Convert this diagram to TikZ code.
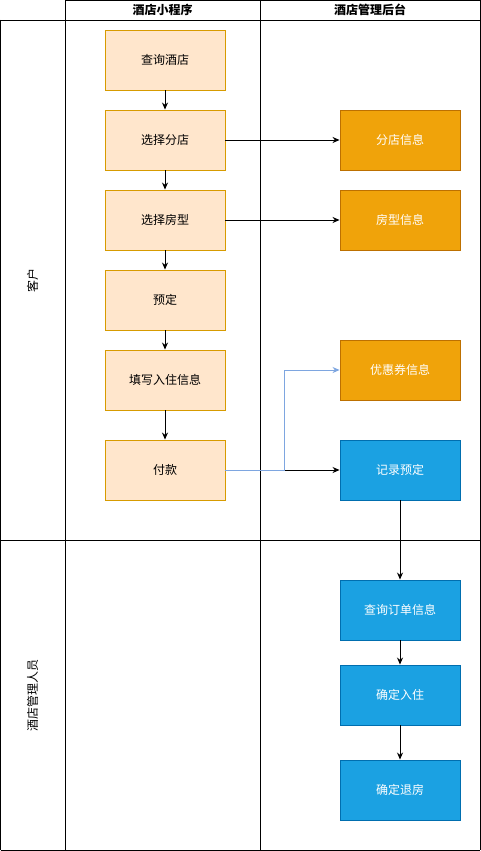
\documentclass[tikz,border=0pt]{standalone}
\usepackage{fontspec}
\setmainfont{Noto Sans CJK SC}
\usetikzlibrary{arrows.meta}
\definecolor{lightfill}{HTML}{FFE6CC}
\definecolor{lightline}{HTML}{D79B00}
\definecolor{orangefill}{HTML}{F0A30A}
\definecolor{orangeline}{HTML}{BD7000}
\definecolor{bluefill}{HTML}{1BA1E2}
\definecolor{blueline}{HTML}{006EAF}
\definecolor{linkblue}{HTML}{7EA6E0}
\tikzset{
  box/.style={draw, line width=0.9pt, minimum width=120pt, minimum height=60pt, inner sep=0pt, font=\fontsize{12}{14}\selectfont},
  userbox/.style={box, fill=lightfill, draw=lightline, text=black},
  infobox/.style={box, fill=orangefill, draw=orangeline, text=white},
  adminbox/.style={box, fill=bluefill, draw=blueline, text=white},
  flow/.style={line width=0.8pt, -{Stealth[length=7pt,width=6pt]}},
  lane/.style={line width=0.8pt},
  head/.style={font=\fontsize{12}{14}\selectfont\bfseries},
  lanelabel/.style={rotate=90, font=\fontsize{12}{14}\selectfont}
}
\begin{document}
\begin{tikzpicture}[x=1pt,y=-1pt]
\useasboundingbox (0,0) rectangle (481,851);
% swimlane frame
\draw[lane] (65,0.5) -- (480,0.5);
\draw[lane] (65,0.5) -- (65,850) (260,0.5) -- (260,850) (480,0.5) -- (480,850);
\draw[lane] (0.5,20) -- (480,20) (0.5,540) -- (480,540) (0.5,850) -- (480,850);
\draw[lane] (0.5,20) -- (0.5,850);
\node[head] (colA) at (162.5,10) {酒店小程序};
\node[head] (colB) at (370,10) {酒店管理后台};
\node[lanelabel] (laneA) at (32.5,280) {客户};
\node[lanelabel] (laneB) at (32.5,695) {酒店管理人员};
% customer steps
\node[userbox] (q1) at (165,60) {查询酒店};
\node[userbox] (q2) at (165,140) {选择分店};
\node[userbox] (q3) at (165,220) {选择房型};
\node[userbox] (q4) at (165,300) {预定};
\node[userbox] (q5) at (165,380) {填写入住信息};
\node[userbox] (q6) at (165,470) {付款};
% back-office data
\node[infobox] (b1) at (400,140) {分店信息};
\node[infobox] (b2) at (400,220) {房型信息};
\node[infobox] (b3) at (400,370) {优惠券信息};
\node[adminbox] (r1) at (400,470) {记录预定};
\node[adminbox] (r2) at (400,610) {查询订单信息};
\node[adminbox] (r3) at (400,695) {确定入住};
\node[adminbox] (r4) at (400,790) {确定退房};
% connectors
\draw[flow] (q1) -- (q2);
\draw[flow] (q2) -- (q3);
\draw[flow] (q3) -- (q4);
\draw[flow] (q4) -- (q5);
\draw[flow] (q5) -- (q6);
\draw[flow] (q2) -- (b1);
\draw[flow] (q3) -- (b2);
\draw[flow] (q6) -- (r1);
\coordinate (split) at (284,470);
\draw[flow, draw=linkblue] (q6.east) -- (split) |- (b3.west);
\draw[flow] (r1) -- (r2);
\draw[flow] (r2) -- (r3);
\draw[flow] (r3) -- (r4);
\end{tikzpicture}
\end{document}
